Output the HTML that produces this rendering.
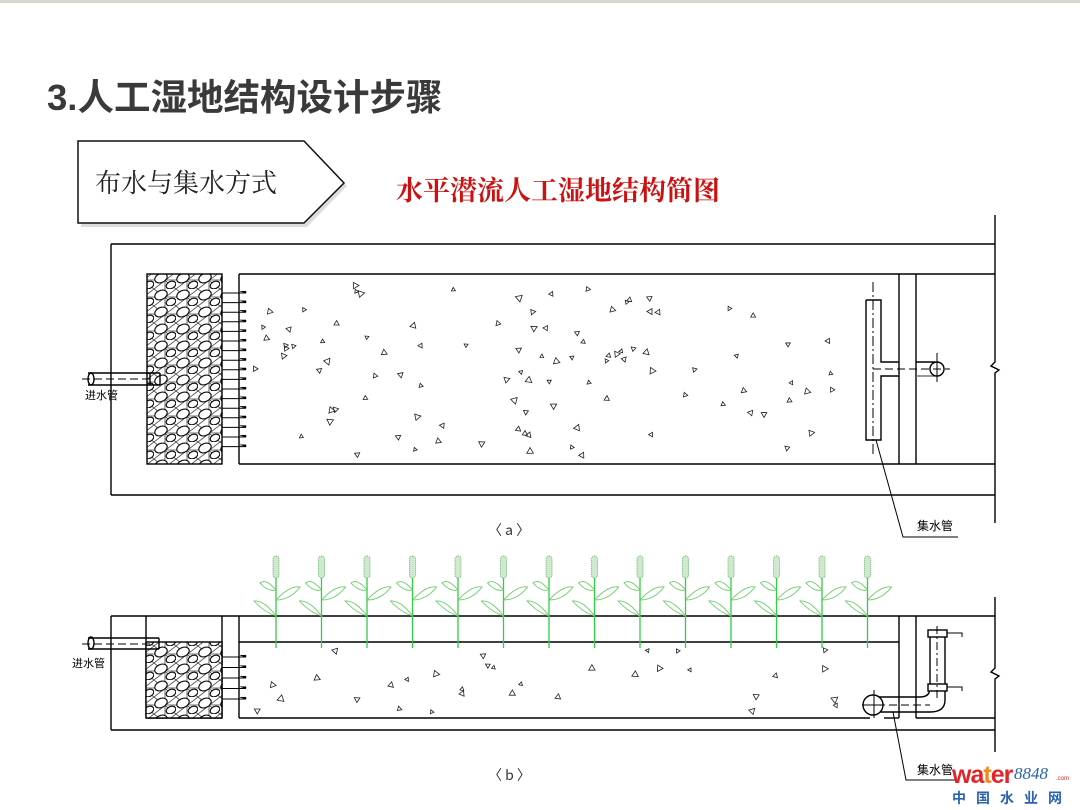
<!DOCTYPE html>
<html><head><meta charset="utf-8">
<style>
html,body{margin:0;padding:0;background:#fff;}
body{width:1080px;height:810px;overflow:hidden;position:relative;font-family:"Liberation Sans","Noto Sans CJK SC",sans-serif;}
</style></head>
<body>
<svg id="s" width="1080" height="810" viewBox="0 0 1080 810" xmlns="http://www.w3.org/2000/svg" style="position:absolute;left:0;top:0">
<defs>
<pattern id="grav" width="22" height="17" patternUnits="userSpaceOnUse">
<rect width="22" height="17" fill="#fff"/>
<path d="M0 0 L22 17 M22 0 L0 17 M0 8 H22 M11 0 V17" stroke="#444" stroke-width="0.8"/>
<ellipse cx="7" cy="6" rx="6.5" ry="4.5" fill="#fff" stroke="#111" stroke-width="1.2" transform="rotate(-25 7 6)"/>
<ellipse cx="17" cy="13" rx="5" ry="3.5" fill="#fff" stroke="#111" stroke-width="1.2" transform="rotate(-25 17 13)"/>
</pattern>
</defs>
<rect x="0" y="0" width="1080" height="3" fill="#d8d8d0"/>
<text x="47" y="110" font-family="Liberation Sans,'Noto Sans CJK SC',sans-serif" font-size="36.5" font-weight="bold" fill="#3a3a3a">3.人工湿地结构设计步骤</text>
<polygon points="81,144 307,144 347,186 307,227 81,227" fill="#ddd"/>
<polygon points="78,141 304,141 344,183 304,223 78,223" fill="#fff" stroke="#111" stroke-width="1.5"/>
<text x="95" y="192" font-family="'Noto Serif CJK SC',serif" font-size="26" fill="#222">布水与集水方式</text>
<text x="396" y="200" font-family="'Noto Serif CJK SC',serif" font-size="27" font-weight="bold" fill="#cc1111">水平潜流人工湿地结构简图</text>

<g stroke="#000" stroke-width="1.4" fill="none">
<!-- (a) -->
<line x1="111" y1="244" x2="995" y2="244"/>
<line x1="111" y1="495" x2="995" y2="495"/>
<line x1="111" y1="244" x2="111" y2="495"/>
<line x1="239" y1="274" x2="995" y2="274"/>
<line x1="239" y1="464" x2="995" y2="464"/>
<line x1="239" y1="274" x2="239" y2="464"/>
<line x1="899" y1="274" x2="899" y2="464"/>
<line x1="916" y1="274" x2="916" y2="464"/>
<polyline points="995,215 995,362 991,366 999,370 995,373 995,523"/>
<rect x="147" y="274" width="75" height="190" fill="url(#grav)"/>
<!-- inlet a -->
<line x1="88" y1="373" x2="160" y2="373"/>
<line x1="88" y1="385" x2="160" y2="385"/>
<line x1="150" y1="373" x2="150" y2="385"/>
<line x1="160" y1="373" x2="160" y2="385"/>
<ellipse cx="91" cy="379" rx="3" ry="6"/>
<line x1="82" y1="379" x2="150" y2="379" stroke-dasharray="8,4" stroke-width="1"/>
<!-- collector a -->
<path d="M866 300 H881 V362 H899 M899 376 H881 V440 H866 V300" fill="#fff"/>
<line x1="873" y1="282" x2="873" y2="456" stroke-dasharray="10,3,2,3" stroke-width="1"/>
<line x1="873" y1="369" x2="950" y2="369" stroke-dasharray="8,4" stroke-width="1"/>
<line x1="916" y1="362" x2="935" y2="362"/>
<line x1="916" y1="376" x2="935" y2="376" stroke="#777"/>
<circle cx="937" cy="369" r="7"/>
<line x1="937" y1="353" x2="937" y2="382" stroke-width="1"/>
<polyline points="876,440 903,537 958,537" stroke-width="1"/>

<!-- (b) -->
<line x1="111" y1="616" x2="995" y2="616"/>
<line x1="111" y1="730" x2="995" y2="730"/>
<line x1="111" y1="616" x2="111" y2="730"/>
<line x1="146" y1="616" x2="146" y2="718"/>
<line x1="146" y1="718" x2="222" y2="718"/>
<line x1="222" y1="616" x2="222" y2="718"/>
<line x1="239" y1="616" x2="239" y2="718"/>
<line x1="239" y1="642" x2="899" y2="642"/>
<line x1="239" y1="718" x2="870" y2="718"/>
<line x1="899" y1="616" x2="899" y2="718"/>
<line x1="916" y1="616" x2="916" y2="718"/>
<line x1="916" y1="718" x2="995" y2="718"/>
<line x1="884" y1="718" x2="899" y2="718"/>
<polyline points="995,597 995,668 991,672 999,676 995,679 995,752"/>
<rect x="146" y="642" width="76" height="76" fill="url(#grav)"/>
<!-- inlet b -->
<line x1="88" y1="638" x2="159" y2="638"/>
<line x1="88" y1="649" x2="159" y2="649"/>
<line x1="159" y1="638" x2="159" y2="649"/>
<ellipse cx="91" cy="643" rx="3" ry="6"/>
<line x1="82" y1="644" x2="150" y2="644" stroke-dasharray="8,4" stroke-width="1"/>
<!-- pipe b -->
<path d="M930 634 V688 Q930 697 920 697 H872"/>
<path d="M945 634 V700 Q945 712 930 712 H872"/>
<rect x="928" y="630" width="19" height="7" fill="#fff"/>
<rect x="928" y="684" width="19" height="7" fill="#fff"/>
<line x1="937" y1="626" x2="937" y2="700" stroke-dasharray="8,3,2,3" stroke-width="1"/>
<line x1="865" y1="705" x2="930" y2="705" stroke-dasharray="8,4" stroke-width="1"/>
<polyline points="947,633 962,633 962,637" stroke-width="1"/>
<polyline points="947,687 962,687 962,691" stroke-width="1"/>
<circle cx="873" cy="705" r="10" fill="#fff"/>
<line x1="862" y1="705" x2="884" y2="705" stroke-width="1"/>
<line x1="874" y1="690" x2="874" y2="718" stroke-width="1"/>
<polyline points="893,712 906,780 958,780" stroke-width="1"/>
</g>
<g id="arrows" stroke="#000" stroke-width="1"></g>
<g id="tri" stroke="#222" stroke-width="0.8" fill="none"></g>
<g id="plants"></g>

<g font-family="'Noto Sans CJK SC',sans-serif" fill="#000">
<text x="85" y="399" font-size="11">进水管</text>
<text x="72" y="667" font-size="11">进水管</text>
<text x="917" y="530" font-size="12">集水管</text>
<text x="917" y="774" font-size="12">集水管</text>
<text x="488" y="535" font-size="14" fill="#333">〈 a 〉</text>
<text x="488" y="780" font-size="14" fill="#333">〈 b 〉</text>
</g>
<text x="952" y="783" font-family="Liberation Sans,sans-serif" font-size="25" font-weight="bold" fill="#e0262a" letter-spacing="-1">wa<tspan fill="#f08a1c">t</tspan><tspan fill="#e0262a">er</tspan></text>
<text x="1014" y="779" font-family="Liberation Serif,serif" font-size="17" font-style="italic" fill="#2a62b0">8848</text>
<text x="1056" y="780" font-family="Liberation Sans,sans-serif" font-size="6" fill="#e0262a">.com</text>
<text x="952" y="803" font-family="'Noto Sans CJK SC',sans-serif" font-size="14" font-weight="bold" fill="#2a62b0" letter-spacing="10">中国水业网</text>
</svg>
<script>
(function(){
var NS="http://www.w3.org/2000/svg";
function el(t,a,p){var e=document.createElementNS(NS,t);for(var k in a)e.setAttribute(k,a[k]);p.appendChild(e);return e;}
var ar=document.getElementById('arrows');
for(var i=0;i<17;i++){var y=293+i*9.6;el('line',{x1:222,y1:y,x2:246,y2:y},ar);el('path',{d:'M240 '+(y-1.8)+' L246 '+(y-1.8)+' L246 '+y+'Z',fill:'#000','stroke-width':0.5},ar);}
for(var i=0;i<5;i++){var y=657+i*10.5;el('line',{x1:222,y1:y,x2:246,y2:y},ar);el('path',{d:'M240 '+(y-1.8)+' L246 '+(y-1.8)+' L246 '+y+'Z',fill:'#000','stroke-width':0.5},ar);}
var seed=7;function r(){seed=(seed*9301+49297)%233280;return seed/233280;}
var tg=document.getElementById('tri');
function tri(x,y){var s=2.2+r()*1.8,a=r()*6.28,p=[];for(var k=0;k<3;k++){var b=a+k*2.094;p.push((x+s*Math.cos(b)).toFixed(1)+','+(y+s*Math.sin(b)).toFixed(1));}el('polygon',{points:p.join(' ')},tg);}
for(var i=0;i<100;i++)tri(255+r()*600,285+r()*172);
for(var i=0;i<32;i++)tri(255+r()*600,650+r()*62);
var pg=document.getElementById('plants');
for(var i=0;i<14;i++){var x=276+i*45.5;
el('line',{x1:x,y1:572,x2:x,y2:648,stroke:'#33cc44','stroke-width':1.3},pg);
el('rect',{x:x-3,y:556,width:6,height:22,rx:3,fill:'#cfe8cf',stroke:'#66bb66','stroke-width':1,'stroke-dasharray':'1,1'},pg);
var c='#66cc66';
el('path',{d:'M'+x+' 590 Q'+(x-10)+' 578 '+(x-16)+' 583 Q'+(x-8)+' 592 '+x+' 590Z',fill:'none',stroke:c,'stroke-width':0.9},pg);
el('path',{d:'M'+x+' 600 Q'+(x+14)+' 585 '+(x+24)+' 587 Q'+(x+14)+' 600 '+x+' 600Z',fill:'none',stroke:c,'stroke-width':0.9},pg);
el('path',{d:'M'+x+' 616 Q'+(x-12)+' 600 '+(x-22)+' 601 Q'+(x-12)+' 612 '+x+' 616Z',fill:'none',stroke:c,'stroke-width':0.9},pg);
}
})();
</script>
</body></html>
